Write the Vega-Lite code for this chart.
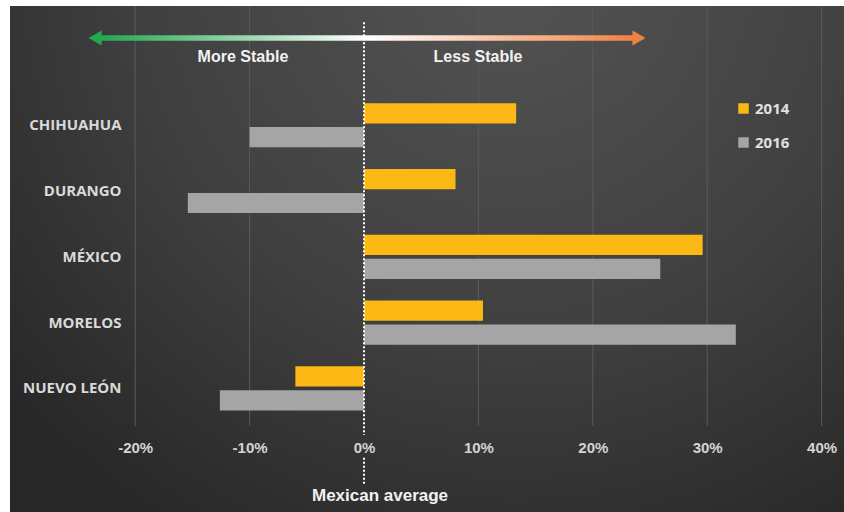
{
  "$schema": "https://vega.github.io/schema/vega-lite/v6.json",
  "width": 834,
  "height": 506,
  "autosize": "none",
  "padding": {"left": 10, "top": 6, "right": 0, "bottom": 0},
  "background": "#ffffff",
  "config": {
    "view": {
      "stroke": null,
      "fill": {
        "gradient": "radial",
        "x1": 0.6, "y1": 0.15, "r1": 0,
        "x2": 0.6, "y2": 0.15, "r2": 0.8,
        "stops": [
          {"offset": 0, "color": "#545454"},
          {"offset": 0.55, "color": "#404040"},
          {"offset": 1, "color": "#272727"}
        ]
      }
    }
  },
  "datasets": {
    "bars": [
      {"state": "CHIHUAHUA", "year": "2014", "v": 0.133},
      {"state": "CHIHUAHUA", "year": "2016", "v": -0.100},
      {"state": "DURANGO", "year": "2014", "v": 0.080},
      {"state": "DURANGO", "year": "2016", "v": -0.154},
      {"state": "MÉXICO", "year": "2014", "v": 0.296},
      {"state": "MÉXICO", "year": "2016", "v": 0.259},
      {"state": "MORELOS", "year": "2014", "v": 0.104},
      {"state": "MORELOS", "year": "2016", "v": 0.325},
      {"state": "NUEVO LEÓN", "year": "2014", "v": -0.060},
      {"state": "NUEVO LEÓN", "year": "2016", "v": -0.126}
    ],
    "grid": [{"v": -0.2}, {"v": -0.1}, {"v": 0.1}, {"v": 0.2}, {"v": 0.3}, {"v": 0.4}],
    "zero": [{"v": 0}]
  },
  "layer": [
    {
      "data": {"name": "grid"},
      "mark": {"type": "rule", "color": "#5a5a5a", "strokeWidth": 1},
      "encoding": {
        "x": {"field": "v", "type": "quantitative", "title": null},
        "y": {"datum": 100, "type": "quantitative", "scale": {"domain": [0, 100]}, "axis": null},
        "y2": {"datum": 17}
      }
    },
    {
      "data": {"name": "bars"},
      "mark": {"type": "bar"},
      "encoding": {
        "y": {
          "field": "state", "type": "nominal", "sort": null,
          "scale": {"range": [97.3, 404.4], "paddingInner": 0.33, "paddingOuter": 0},
          "axis": {
            "title": null, "orient": "left", "offset": -111, "domain": false, "ticks": false,
            "grid": false, "labelPadding": 0, "labelFont": "Open Sans", "labelFontWeight": "bold",
            "labelFontSize": 15, "labelColor": "#dadada"
          }
        },
        "yOffset": {"field": "year", "type": "nominal", "scale": {"paddingInner": 0.15}},
        "x": {
          "field": "v", "type": "quantitative", "stack": null,
          "scale": {"domain": [-0.30944, 0.41958], "nice": false, "zero": false},
          "axis": {
            "title": null, "values": [-0.2, -0.1, 0, 0.1, 0.2, 0.3, 0.4], "format": ".0%",
            "labelExpr": "replace(datum.label, '−', '-')",
            "orient": "bottom", "offset": -65, "domain": false, "ticks": false, "grid": false,
            "labelPadding": 0, "labelBaseline": "middle", "labelFont": "Liberation Sans",
            "labelFontWeight": "bold", "labelFontSize": 15, "labelColor": "#d4d4d4", "labelFlush": false
          }
        },
        "x2": {"datum": 0},
        "color": {
          "field": "year", "type": "nominal",
          "scale": {"domain": ["2014", "2016"], "range": ["#fcb815", "#a5a5a5"]},
          "legend": {
            "title": null, "orient": "none", "legendX": 726, "legendY": 95,
            "symbolType": "square", "symbolSize": 110, "symbolStrokeWidth": 0,
            "labelFont": "Open Sans", "labelFontWeight": "bold", "labelFontSize": 15,
            "labelColor": "#e0e0e0", "rowPadding": 18, "labelOffset": 4
          }
        }
      }
    },
    {
      "data": {"name": "zero"},
      "mark": {"type": "rule", "color": "#ffffff", "strokeWidth": 2, "strokeDash": [2, 2]},
      "encoding": {
        "x": {"field": "v", "type": "quantitative", "title": null},
        "y": {"datum": 96.8, "type": "quantitative", "scale": {"domain": [0, 100]}, "axis": null},
        "y2": {"datum": 15.2}
      }
    },
    {
      "data": {"name": "zero"},
      "mark": {"type": "rule", "color": "#ffffff", "strokeWidth": 2, "strokeDash": [2, 2]},
      "encoding": {
        "x": {"field": "v", "type": "quantitative", "title": null},
        "y": {"datum": 10.7, "type": "quantitative", "scale": {"domain": [0, 100]}, "axis": null},
        "y2": {"datum": 5.5}
      }
    },
    {
      "data": {"name": "zero"},
      "mark": {
        "type": "bar",
        "color": {
          "gradient": "linear", "x1": 0, "y1": 0, "x2": 1, "y2": 0,
          "stops": [
            {"offset": 0, "color": "#22a84f"},
            {"offset": 0.5, "color": "#ffffff"},
            {"offset": 1, "color": "#f08341"}
          ]
        }
      },
      "encoding": {
        "x": {"datum": -0.2308, "type": "quantitative", "title": null},
        "x2": {"datum": 0.2360},
        "y": {"datum": 94.2, "type": "quantitative", "scale": {"domain": [0, 100]}, "axis": null},
        "y2": {"datum": 93.15}
      }
    },
    {
      "data": {"name": "zero"},
      "mark": {"type": "point", "shape": "triangle-left", "filled": true, "opacity": 1, "color": "#22a84f", "size": 230},
      "encoding": {
        "x": {"datum": -0.2351, "type": "quantitative", "title": null},
        "y": {"datum": 93.68, "type": "quantitative", "scale": {"domain": [0, 100]}, "axis": null}
      }
    },
    {
      "data": {"name": "zero"},
      "mark": {"type": "point", "shape": "triangle-right", "filled": true, "opacity": 1, "color": "#f08341", "size": 230},
      "encoding": {
        "x": {"datum": 0.2404, "type": "quantitative", "title": null},
        "y": {"datum": 93.68, "type": "quantitative", "scale": {"domain": [0, 100]}, "axis": null}
      }
    },
    {
      "data": {"name": "zero"},
      "mark": {"type": "text", "text": "More Stable", "font": "Liberation Sans", "fontWeight": "bold", "fontSize": 16, "color": "#f2f2f2", "align": "center", "baseline": "middle"},
      "encoding": {
        "x": {"datum": -0.1058, "type": "quantitative", "title": null},
        "y": {"datum": 89.9, "type": "quantitative", "scale": {"domain": [0, 100]}, "axis": null}
      }
    },
    {
      "data": {"name": "zero"},
      "mark": {"type": "text", "text": "Less Stable", "font": "Liberation Sans", "fontWeight": "bold", "fontSize": 16, "color": "#f2f2f2", "align": "center", "baseline": "middle"},
      "encoding": {
        "x": {"datum": 0.0997, "type": "quantitative", "title": null},
        "y": {"datum": 89.9, "type": "quantitative", "scale": {"domain": [0, 100]}, "axis": null}
      }
    },
    {
      "data": {"name": "zero"},
      "mark": {"type": "text", "text": "Mexican average", "font": "Liberation Sans", "fontWeight": "bold", "fontSize": 17, "color": "#f2f2f2", "align": "center", "baseline": "middle"},
      "encoding": {
        "x": {"datum": 0.014, "type": "quantitative", "title": null},
        "y": {"datum": 3.16, "type": "quantitative", "scale": {"domain": [0, 100]}, "axis": null}
      }
    }
  ],
  "resolve": {"scale": {"y": "independent"}}
}
